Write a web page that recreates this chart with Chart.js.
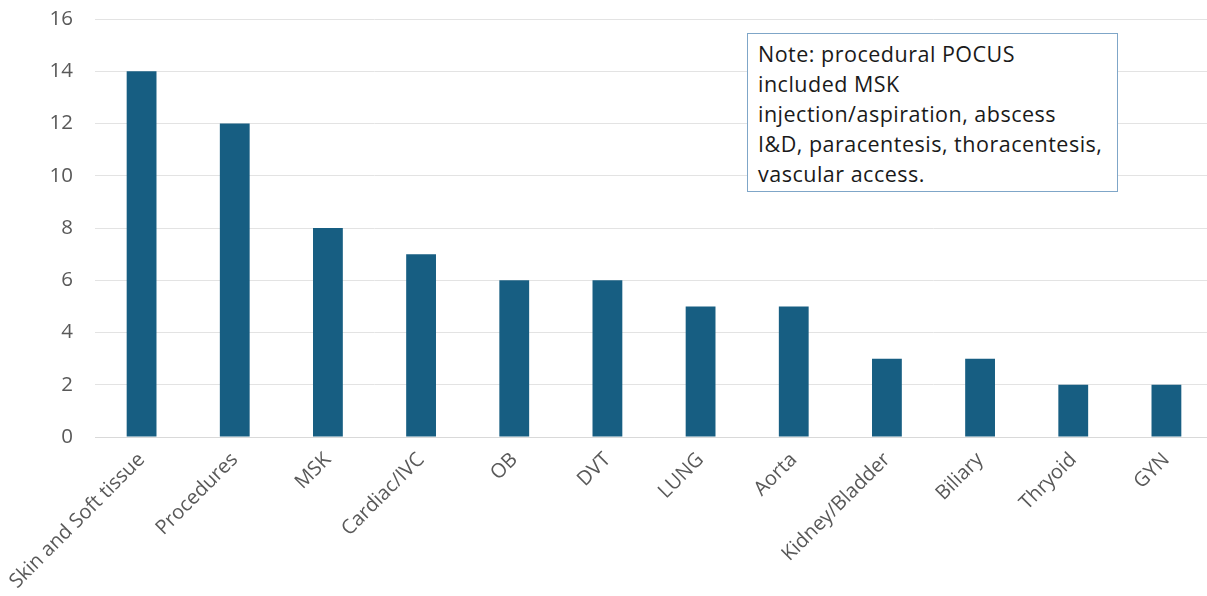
<!DOCTYPE html>
<html>
<head>
<meta charset="utf-8">
<script src="https://cdn.jsdelivr.net/npm/chart.js@4/dist/chart.umd.min.js"></script>
<style>
  html, body { margin: 0; padding: 0; background: #fff; overflow: hidden; }
  #wrap { position: relative; width: 1213px; height: 596px; }
  #note {
    position: absolute; left: 747px; top: 33px; width: 349px; height: 150px;
    border: 1px solid #7fa6c8; background: #fff;
    padding: 5px 10px 2px 10px;
    font-family: "Open Sans", sans-serif; font-size: 21.5px; line-height: 30px; color: #1a1a1a;
    letter-spacing: 0.5px;
    white-space: nowrap;
  }
</style>
</head>
<body>
<div id="wrap">
  <canvas id="c" width="1213" height="596"></canvas>
  <div id="note">Note: procedural POCUS<br>included MSK<br>injection/aspiration, abscess<br>I&amp;D, paracentesis, thoracentesis,<br>vascular access.</div>
</div>
<script>
const categories = ["Skin and Soft tissue", "Procedures", "MSK", "Cardiac/IVC", "OB", "DVT", "LUNG", "Aorta", "Kidney/Bladder", "Biliary", "Thryoid", "GYN"];
const counts = [14, 12, 8, 7, 6, 6, 5, 5, 3, 3, 2, 2];
const yTicks = [0, 2, 4, 6, 8, 10, 12, 14, 16];

new Chart(document.getElementById('c'), {
  type: 'bar',
  data: {
    labels: categories,
    datasets: [{
      data: counts,
      backgroundColor: '#175e82',
      borderWidth: 0,
      categoryPercentage: 1,
      barPercentage: 0.32
    }]
  },
  options: {
    responsive: false,
    animation: false,
    layout: { padding: { top: 19, left: 0, right: 0, bottom: 0 } },
    plugins: { legend: { display: false }, tooltip: { enabled: false } },
    scales: {
      x: {
        grid: { display: false, drawTicks: false },
        border: { color: '#d9d9d9', width: 1 },
        ticks: {
          color: '#595959', font: { family: '"Open Sans", sans-serif', size: 20 },
          minRotation: 45, maxRotation: 45, padding: 11, autoSkip: false
        },
        afterFit: s => { s.height = 159; s.paddingLeft = 0; s.paddingRight = 0; }
      },
      y: {
        min: 0, max: 16,
        afterBuildTicks: s => { s.ticks = yTicks.map(v => ({ value: v })); },
        grid: { color: '#e3e3e3', drawTicks: false, lineWidth: 1 },
        border: { display: false },
        ticks: {
          color: '#595959', font: { family: '"Open Sans", sans-serif', size: 20.5 },
          padding: 22
        },
        afterFit: s => { s.width = 95; s.paddingTop = 0; s.paddingBottom = 0; }
      }
    }
  }
});
</script>
</body>
</html>
